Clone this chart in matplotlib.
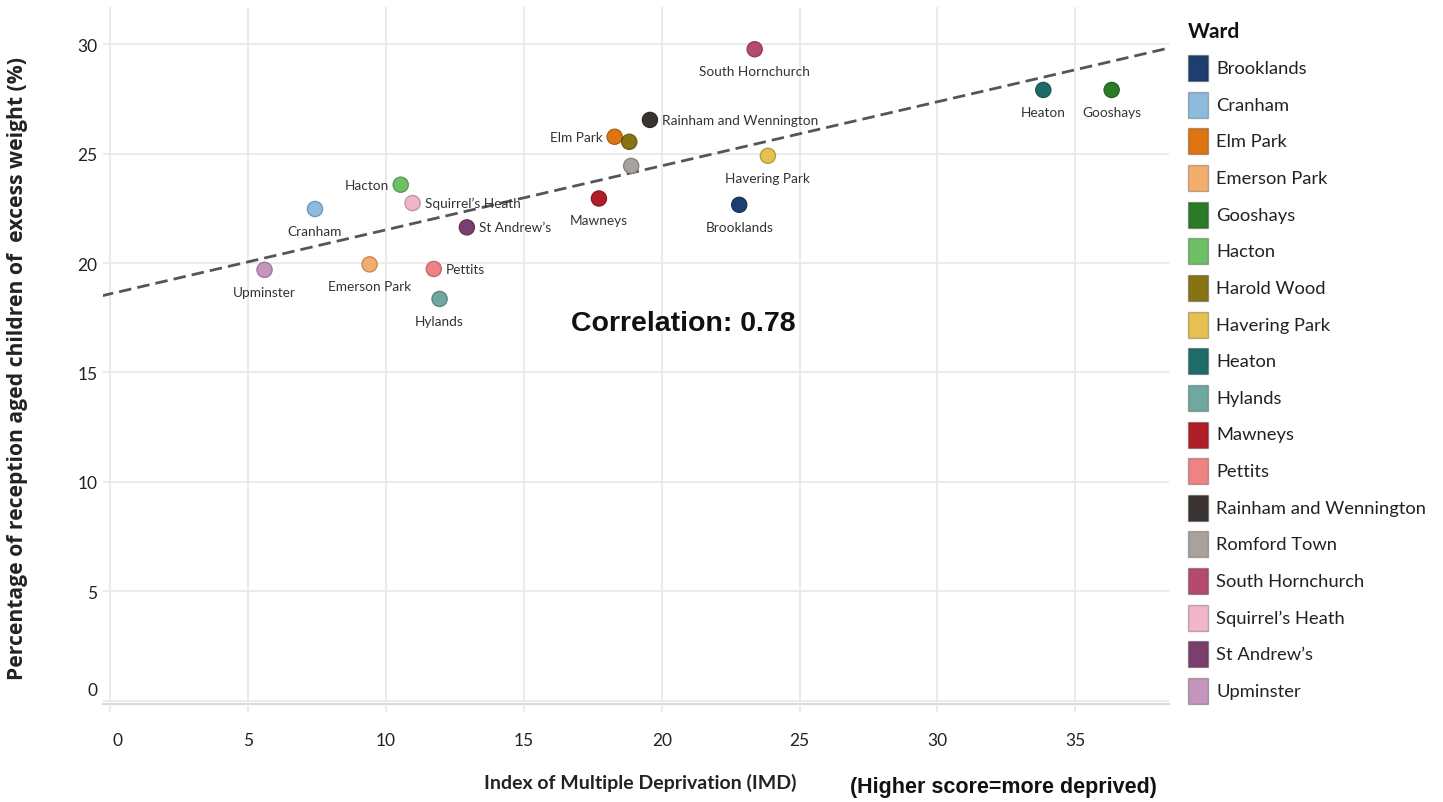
import numpy as np
import matplotlib
matplotlib.use("Agg")
import matplotlib.pyplot as plt
import matplotlib.transforms as mtransforms
from matplotlib.patches import Rectangle

# ---------------- data ----------------
wards = ["Brooklands", "Cranham", "Elm Park", "Emerson Park", "Gooshays", "Hacton",
         "Harold Wood", "Havering Park", "Heaton", "Hylands", "Mawneys", "Pettits",
         "Rainham and Wennington", "Romford Town", "South Hornchurch",
         "Squirrel\u2019s Heath", "St Andrew\u2019s", "Upminster"]
imd = [22.81, 7.42, 18.29, 9.40, 36.32, 10.53, 18.82, 23.85, 33.84, 11.94,
       17.72, 11.73, 19.57, 18.89, 23.37, 10.96, 12.93, 5.59]
excess_weight = [22.66, 22.47, 25.77, 19.94, 27.91, 23.58, 25.54, 24.90, 27.91, 18.36,
                 22.95, 19.73, 26.54, 24.44, 29.77, 22.74, 21.63, 19.69]
colors = ["#1d3e6e", "#8ebbdd", "#de7412", "#f3ad6c", "#2b7a28", "#6fbf66",
          "#867413", "#e7c14f", "#1e6c68", "#6fa89f", "#b01e25", "#ef8383",
          "#393332", "#a9a19b", "#b54a70", "#f2b6cb", "#7a3f6d", "#c595bd"]
xticks = [0, 5, 10, 15, 20, 25, 30, 35]
yticks = [0, 5, 10, 15, 20, 25, 30]
correlation_text = "Correlation: 0.78"

# label placement (style)
placement = {"Brooklands": "below", "Cranham": "below", "Elm Park": "left",
             "Emerson Park": "below", "Gooshays": "below", "Hacton": "left",
             "Havering Park": "below", "Heaton": "below", "Hylands": "below",
             "Mawneys": "below", "Pettits": "right", "Rainham and Wennington": "right",
             "South Hornchurch": "below", "Squirrel\u2019s Heath": "right",
             "St Andrew\u2019s": "right", "Upminster": "below"}

W, H = 1443, 803
fig = plt.figure(figsize=(W / 100, H / 100), dpi=100)
L, R, T, B = 103, 1169, 8, 705
ax = fig.add_axes([L / W, 1 - B / H, (R - L) / W, (B - T) / H])
ax.set_xlim(-0.27, 38.4)
ax.set_ylim(-0.15, 31.7)

for s in ax.spines.values():
    s.set_visible(False)
ax.axhline(-0.15, color="#d9d9d9", lw=1.5, zorder=1, clip_on=False)
ax.set_xticks(xticks)
ax.set_yticks(yticks)
ax.grid(True, color="#e8e8e8", lw=1.2, zorder=0)
ax.tick_params(axis="x", length=6, color="#e8e8e8", width=1.2, pad=14,
               labelsize=12.5, labelcolor="#222222")
ax.tick_params(axis="y", length=0, pad=4, labelsize=12.5, labelcolor="#222222")
fig.canvas.draw()
for lab in ax.get_xticklabels() + ax.get_yticklabels():
    lab.set_fontfamily("Lato")
ax.get_yticklabels()[0].set_transform(
    ax.get_yticklabels()[0].get_transform()
    + mtransforms.ScaledTranslation(0, 12 / 100, fig.dpi_scale_trans))
ax.get_xticklabels()[0].set_transform(
    ax.get_xticklabels()[0].get_transform()
    + mtransforms.ScaledTranslation(7 / 100, 0, fig.dpi_scale_trans))

# trend line
slope, intercept = np.polyfit(imd, excess_weight, 1)
xs = np.array([-1.0, 40.0])
ax.plot(xs, slope * xs + intercept, color="#555555", lw=2.0, dashes=(4.5, 2.2), zorder=2)

# points
ax.scatter(imd, excess_weight, s=120, c=colors, edgecolors=[c for c in colors],
           linewidths=0.8, zorder=3)
ax.scatter(imd, excess_weight, s=120, facecolors="none", edgecolors="#00000033",
           linewidths=1.0, zorder=4)

for name, x, y in zip(wards, imd, excess_weight):
    p = placement.get(name)
    if p is None:
        continue
    if p == "below":
        off, ha, va = (0, -16), "center", "top"
    elif p == "left":
        off, ha, va = (-12, 0), "right", "center"
    else:
        off, ha, va = (12, 0), "left", "center"
    ax.annotate(name, (x, y), xytext=off, textcoords="offset pixels", ha=ha, va=va,
                fontsize=9.8, family="Lato", color="#333333", zorder=5)

fig.text(683 / W, 1 - 324 / H, correlation_text, ha="center", va="center",
         fontsize=20.5, fontweight="bold", family="Liberation Sans", color="#111111")

# axis labels
fig.text(18 / W, 1 - 369 / H, "Percentage of reception aged children of  excess weight (%)",
         rotation=90, ha="center", va="center", fontsize=15.2, fontweight="bold",
         family="Open Sans", color="#222222")
fig.text(640 / W, 1 - 783 / H, "Index of Multiple Deprivation (IMD)", ha="center",
         va="center", fontsize=14, fontweight="bold", family="Lato", color="#222222")
fig.text(1003 / W, 1 - 788 / H, "(Higher score=more deprived)", ha="center",
         va="center", fontsize=15.5, fontweight="bold", family="Liberation Sans",
         color="#111111")

# legend
fig.text(1188 / W, 1 - 32 / H, "Ward", ha="left", va="center", fontsize=15,
         fontweight="bold", family="Lato", color="#111111")
y0, step = 69, 36.65
for i, (name, c) in enumerate(zip(wards, colors)):
    yc = y0 + i * step
    fig.patches.append(Rectangle((1188 / W, 1 - (yc + 13) / H), 20 / W, 26 / H,
                                 transform=fig.transFigure, facecolor=c,
                                 edgecolor="#00000040", lw=1.0))
    fig.text(1216 / W, 1 - yc / H, name, ha="left", va="center", fontsize=13.2,
             family="Lato", color="#222222")

fig.savefig("out.png", dpi=100)
